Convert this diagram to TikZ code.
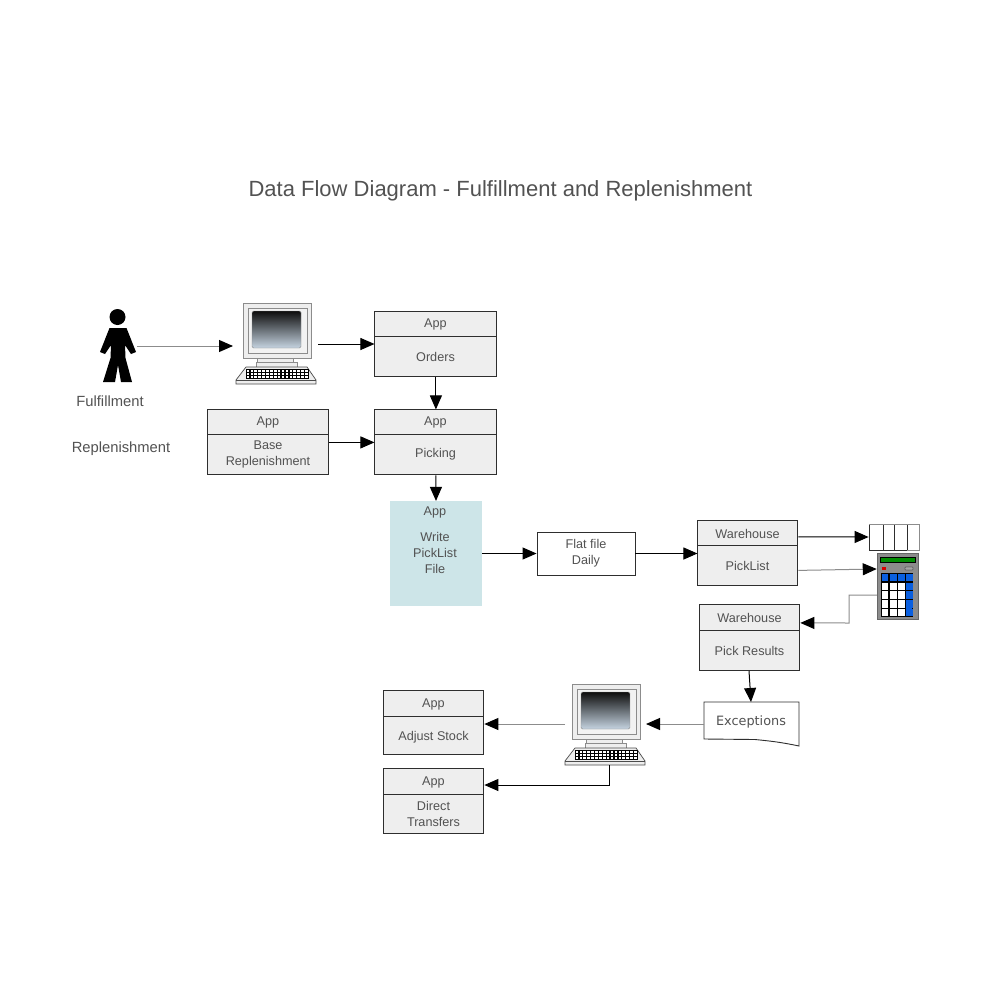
\documentclass[tikz,border=0pt]{standalone}
\usepackage{fontspec}
\setmainfont{Liberation Sans}
\newfontfamily\wideface{DejaVu Sans}
\usetikzlibrary{arrows.meta,calc}
\definecolor{txt}{HTML}{525252}
\definecolor{boxfill}{HTML}{EEEEEE}
\definecolor{tealfill}{HTML}{CDE5E8}
\definecolor{linegray}{HTML}{8C8C8C}
\definecolor{outl}{HTML}{2E2E2E}
\definecolor{keyblue}{HTML}{0A5FE0}
\definecolor{screenlow}{HTML}{C5D3E0}
\tikzset{
  every node/.style={text=txt,inner sep=0pt,align=center},
  lab/.style={font=\fontsize{36}{45.5}\selectfont},
  biglab/.style={font=\fontsize{42}{50}\selectfont},
  ttl/.style={font=\fontsize{62.6}{72}\selectfont},
  boxshape/.style={draw=outl,line width=0.9mm,fill=boxfill,minimum width=#1},
  flow/.style={line width=1mm,-{Triangle[length=14mm,width=12mm]},black},
  flowgray/.style={line width=1mm,draw=linegray,-{Triangle[length=14mm,width=12mm,color=black,fill=black]}},
  pics/computer/.style={code={
    \draw[line width=0.8mm,draw=linegray,fill=boxfill] (0,0) rectangle (68,55);
    \draw[line width=0.6mm,draw=linegray,fill=white!90!gray] (5,5) rectangle (64,50);
    \shade[top color=black!95,bottom color=screenlow,rounded corners=1.5mm,draw=linegray,line width=0.4mm] (9,8) rectangle (58,45);
    \draw[line width=0.7mm,draw=linegray,fill=boxfill] (14,55) rectangle (50,59);
    \draw[line width=0.7mm,draw=linegray,fill=boxfill] (13,59) rectangle (54,64);
    \draw[line width=0.7mm,draw=black!70,fill=boxfill] (3,64) -- (64,64) -- (73,77) -- (73,81) -- (-7,81) -- (-7,77) -- cycle;
    \draw[line width=0.5mm,draw=black!70] (-7,77) -- (73,77);
    \fill[black] (3,66) rectangle (66,75.5);
    \foreach \r in {0,1,2} \foreach \c in {0,...,15}
      \fill[white] ({3.6+\c*3.9},{66.7+\r*3}) rectangle ++(2.6,1.8);
  }}
}
\newcommand{\flowbox}[9]{% name x1 y1 x2 y2 ydiv head body ybody
  \node[boxshape={(#4-#2)*1mm},minimum height={(#5-#3)*1mm}] (#1) at ({(#2+#4)/2-0.1},{(#3+#5)/2-0.1}) {};
  \draw[line width=0.9mm,outl] (#2-0.1,#6) -- (#4-0.1,#6);
  \node[lab] (#1h) at ({(#2+#4)/2-0.5},{(#3+#6)/2+0.5}) {#7};
  \node[lab] (#1b) at ({(#2+#4)/2-0.5},#9) {#8};
}
\begin{document}
\begin{tikzpicture}[x=1mm,y=-1mm]
\useasboundingbox (0,0) rectangle (1000,1000);
\fill[white] (0,0) rectangle (1000,1000);
\node[ttl] (title) at (500.5,190.5) {Data Flow Diagram - Fulfillment and Replenishment};

% person
\fill[black] (117.5,317) circle (8);
\fill[black] (109.5,328) -- (126.5,328) -- (136,352) -- (131,354) -- (125,345) -- (125.5,358) -- (132,382) -- (121,382) -- (118,365) -- (115,382) -- (103,382) -- (110.5,358) -- (111,345) -- (105,354) -- (100,352) -- cycle;
\coordinate (person) at (137,346);
\node[biglab] (ful) at (110,401) {Fulfillment};
\node[biglab] (rep) at (121,449) {Replenishment};

% computers
\pic at (243,303) {computer};
\pic at (572,684) {computer};
\coordinate (compAin) at (233,346);
\coordinate (compAout) at (318,344);
\coordinate (compBin) at (646,724);
\coordinate (compBleft) at (565,724);
\coordinate (compBbot) at (609,765);

% boxes
\flowbox{orders}{375}{312}{497}{377}{336}{App}{Orders}{356.5}
\flowbox{picking}{375}{410}{497}{475}{434}{App}{Picking}{454.5}
\flowbox{base}{208}{410}{329}{475}{434}{App}{Base\\Replenishment}{454.5}
\flowbox{wh}{698}{521}{798}{586}{545}{Warehouse}{PickList}{566}
\flowbox{pr}{700}{605}{800}{671}{630}{Warehouse}{Pick Results}{651}
\flowbox{adj}{384}{691}{484}{755}{716}{App}{Adjust Stock}{737.5}
\flowbox{dir}{384}{769}{484}{834}{794}{App}{Direct\\Transfers}{813.5}

% write picklist
\node[fill=tealfill,minimum width=92mm,minimum height=105mm] (write) at (436,553.5) {};
\node[lab] (writeh) at (435,512) {App};
\node[lab] (writeb) at (435,552.5) {Write\\PickList\\File};

% flat file
\node[draw=outl,line width=0.9mm,fill=white,minimum width=98mm,minimum height=43mm,lab] (flat) at (586,553.5) {Flat file\\Daily};

% exceptions
\draw[line width=0.9mm,outl,fill=white] (704,702) -- (799,702) -- (799,746) .. controls (780,742) and (770,741) .. (755,739.5) -- (704,739) -- cycle;
\node[font=\wideface\fontsize{36.5}{44}\selectfont] (exc) at (751,721.5) {Exceptions};
\coordinate (excW) at (704,724);
\coordinate (excN) at (751,702);

% queue
\node[draw=outl,line width=0.8mm,fill=white,minimum width=50mm,minimum height=26mm] (queue) at (894,537) {};
\draw[line width=0.9mm,outl] (883,524) -- (883,550) (894,524) -- (894,550) (907,524) -- (907,550);
\draw[line width=0.9mm,black!45] (869,524) -- (919,524) -- (919,550) -- (907,550);

% calculator
\node[fill=linegray,draw=black!60,line width=0.5mm,minimum width=41mm,minimum height=66mm] (calc) at (897.5,586) {};
\fill[black] (880,556.5) rectangle (915.5,562.5);
\fill[green!55!black] (880.7,557.5) rectangle (914.7,561.8);
\fill[red!85!black] (882,567) rectangle (886,570);
\draw[fill=gray!70,draw=black,line width=0.3mm,rounded corners=0.5mm] (905,567) rectangle (913,570);
\fill[black] (881,573) rectangle (913,617);
\foreach \r in {0,...,4} \foreach \c in {0,...,3} {
  \pgfmathsetmacro{\xa}{881.8+\c*8.1}
  \pgfmathsetmacro{\ya}{573.8+\r*8.8}
  \ifnum\r=0 \def\kc{keyblue}\else\ifnum\c=3 \def\kc{keyblue}\else\def\kc{white}\fi\fi
  \fill[\kc] (\xa,\ya) rectangle ++(6.6,7.3);
}
\fill[keyblue] (906.1,600) rectangle (912.4,616.3);

% connectors
\draw[flowgray] (person) -- (compAin);
\draw[flow] (compAout) -- (orders.west |- compAout);
\draw[flow] (orders.south) -- (picking.north);
\draw[flow] (base.east) -- (base.east -| picking.west);
\draw[flow] (picking.south) -- (write.north);
\draw[flow] (write.east) -- (flat.west);
\draw[flow] (flat.east) -- (wh.west |- flat.east);
\draw[flow] ($(wh.east)+(0,-16.5)$) -- (queue.west);
\draw[flowgray] ($(wh.east)+(0,17)$) -- ($(calc.west)+(0,-17)$);
\draw[flowgray] ($(calc.west)+(0,9)$) -- (849,595) -- (849,623) -- ($(pr.east)+(0,-15)$);
\draw[flow] (749,671) -- (excN);
\draw[flowgray] (excW) -- (compBin);
\draw[flowgray] (compBleft) -- (adj.east |- compBleft);
\draw[flow] (compBbot) -- (609,785) -- (dir.east |- 609,785);
\end{tikzpicture}
\end{document}
